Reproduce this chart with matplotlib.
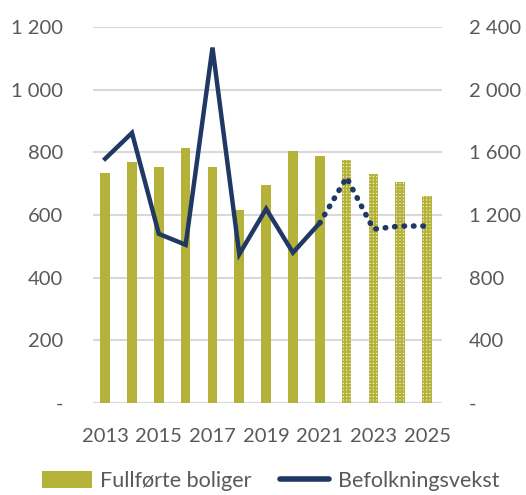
import matplotlib.pyplot as plt
from matplotlib.lines import Line2D
from matplotlib.patches import Patch

OLIVE = "#b5b23a"
NAVY = "#1f3864"
GRID = "#d9d9d9"
TEXT = "#595959"

plt.rcParams["font.family"] = ["Lato", "DejaVu Sans"]
plt.rcParams["hatch.linewidth"] = 1.4

years = list(range(2013, 2026))
boliger = [735, 770, 755, 815, 755, 615, 695, 805, 790, 775, 730, 705, 660]
n_actual = 9  # 2013-2021 actual, 2022-2025 forecast

befolk_years = list(range(2013, 2022))
befolk = [1560, 1725, 1080, 1010, 2270, 950, 1240, 960, 1150]
prog_years = [2021, 2022, 2023, 2024, 2025]
prog = [1150, 1440, 1110, 1130, 1130]

left_ticks = [0, 200, 400, 600, 800, 1000, 1200]
right_ticks = [0, 400, 800, 1200, 1600, 2000, 2400]


def fmt(v, _=None):
    if v == 0:
        return "-"
    return f"{int(v):,}".replace(",", " ")


fig = plt.figure(figsize=(5.26, 4.95), dpi=100)
ax = fig.add_axes([0.177, 0.186, 0.663, 0.759])

ax.bar(years[:n_actual], boliger[:n_actual], width=0.36, color=OLIVE, zorder=3)
ax.bar(years[n_actual:], boliger[n_actual:], width=0.36, facecolor="#ecebc6",
       edgecolor=OLIVE, hatch="+++++", linewidth=0, zorder=3)

ax.set_xlim(2012.55, 2025.55)
ax.set_ylim(0, 1200)
ax.set_yticks(left_ticks)
ax.yaxis.set_major_formatter(fmt)
ax.set_xticks(years[::2])
ax.grid(axis="y", color=GRID, lw=1.5, zorder=0)
for s in ("top", "right", "left", "bottom"):
    ax.spines[s].set_visible(False)
ax.tick_params(axis="both", length=0, labelsize=14.5, colors=TEXT)
ax.tick_params(axis="y", pad=21.5)
ax.tick_params(axis="x", pad=18)

ax2 = ax.twinx()
ax2.plot(befolk_years, befolk, color=NAVY, lw=3.2, solid_joinstyle="miter",
         zorder=4)
ax2.plot(prog_years, prog, color=NAVY, lw=4, linestyle=(0, (0.1, 1.6)),
         dash_capstyle="round", zorder=4)
ax2.set_ylim(0, 2400)
ax2.set_yticks(right_ticks)
ax2.yaxis.set_major_formatter(fmt)
for s in ("top", "right", "left", "bottom"):
    ax2.spines[s].set_visible(False)
ax2.tick_params(axis="y", length=0, labelsize=14.5, colors=TEXT, pad=19.5)

handles = [Patch(facecolor=OLIVE, label="Fullførte boliger"),
           Line2D([], [], color=NAVY, lw=4, solid_capstyle="round",
                  label="Befolkningsvekst")]
fig.legend(handles=handles, loc="center", bbox_to_anchor=(0.515, 0.028),
           ncol=2, frameon=False, fontsize=15.5, labelcolor=TEXT,
           handlelength=2.3, handleheight=0.8, columnspacing=1.3,
           handletextpad=0.4, borderpad=0.2)

fig.savefig("out.png", dpi=100)
